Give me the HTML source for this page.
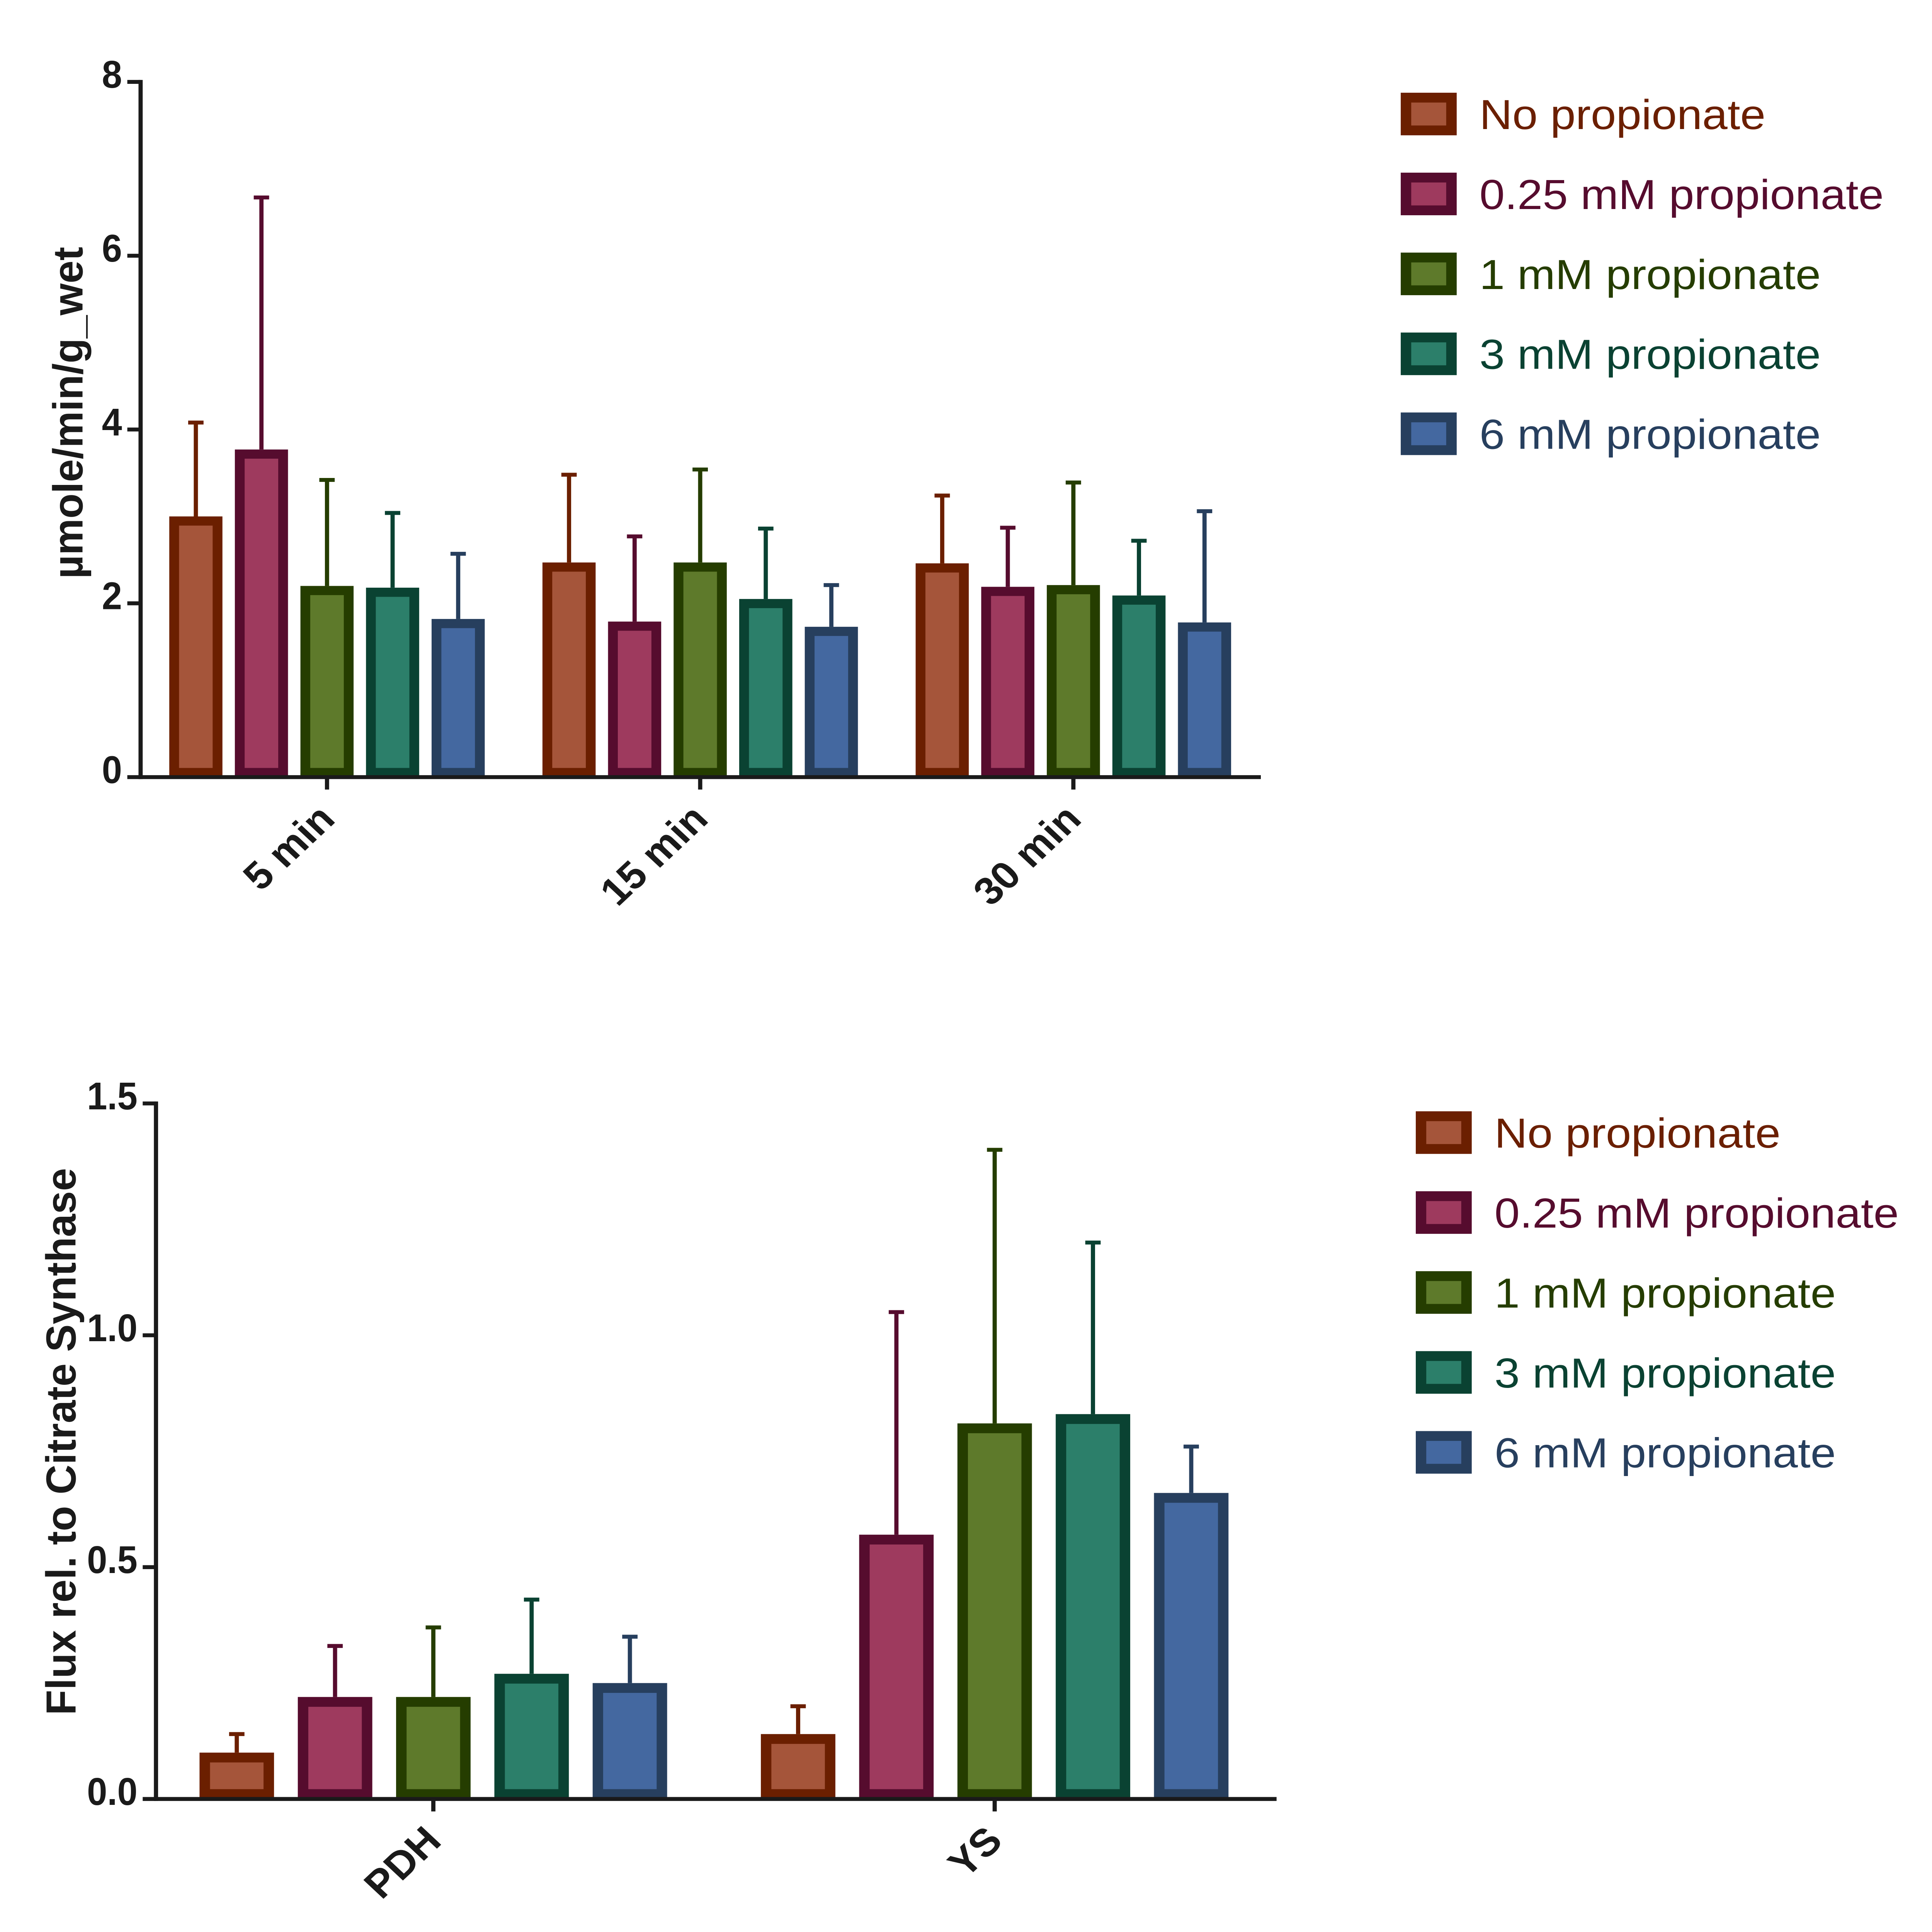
<!DOCTYPE html>
<html><head><meta charset="utf-8"><style>
html,body{margin:0;padding:0;background:#fff;overflow:hidden;width:100%;height:100%;}
svg{display:block;width:100vw;height:100vh;}
text{font-family:"Liberation Sans",sans-serif;}
</style></head><body>
<svg id="chart" viewBox="0 0 5524 5897" preserveAspectRatio="none" xmlns="http://www.w3.org/2000/svg"></svg>
<script>
const seriesNames = ["No propionate","0.25 mM propionate","1 mM propionate","3 mM propionate","6 mM propionate"];
const legendWidths = [818,1156,976,976,976];
const fills = ["#A5553A","#9E3A5E","#5E7A2B","#2C7F6A","#4468A0"];
const strokes = ["#6B1F00","#560C2E","#253D00","#0A4232","#273F5E"];
const topCategories = ["5 min","15 min","30 min"];
const topMeans = [[3.0,2.47,2.46],[3.77,1.79,2.19],[2.2,2.47,2.21],[2.18,2.05,2.09],[1.82,1.73,1.78]];
const topErrTops = [[4.08,3.48,3.24],[6.67,2.77,2.87],[3.42,3.54,3.39],[3.04,2.86,2.72],[2.57,2.21,3.06]];
const topTicks = [0,2,4,6,8];
const botCategories = ["PDH","YS"];
const botMeans = [[0.1,0.14],[0.22,0.57],[0.22,0.81],[0.27,0.83],[0.25,0.66]];
const botErrTops = [[0.14,0.2],[0.33,1.05],[0.37,1.4],[0.43,1.2],[0.35,0.76]];
const botTicks = ["0.0","0.5","1.0","1.5"];

const svg = document.getElementById('chart');
const NS = "http://www.w3.org/2000/svg";
function mk(tag, attrs, parent){const e=document.createElementNS(NS,tag);for(const k in attrs)e.setAttribute(k,attrs[k]);(parent||svg).appendChild(e);return e;}

function drawChart(cfg){
  const g = mk('g',{});
  
  
  const yScale = v => cfg.y0 - (v - cfg.vmin)/(cfg.vmax-cfg.vmin)*(cfg.y0-cfg.y1);
  cfg.cats.forEach((c,ci)=>{
    const center = cfg.groupStart + ci*cfg.groupStep;
    for(let s=0;s<5;s++){
      const cx = center + (s-2)*cfg.barStep;
      const v = cfg.means[s][ci], et = cfg.errs[s][ci];
      const yt = yScale(v), ye = yScale(et);
      const err = mk('line',{x1:cx,x2:cx,y1:ye,y2:yt,stroke:strokes[s],'stroke-width':12},g);
      
      
      const cap = mk('line',{x1:cx-22,x2:cx+22,y1:ye,y2:ye,stroke:strokes[s],'stroke-width':12},g);
      
      
      const sw = cfg.sw, w = cfg.barW;
      const r = mk('rect',{x:cx-w/2+sw/2,y:yt+sw/2,width:w-sw,height:Math.max(0,cfg.y0-yt-sw),fill:fills[s],stroke:strokes[s],'stroke-width':sw},g);
      
      
    }
    const tk = mk('line',{x1:center,x2:center,y1:cfg.y0,y2:cfg.y0+38,stroke:'#1a1a1a','stroke-width':12},g);
    
    
    const lx = center+28, ly = cfg.y0+134;
    const t = mk('text',{x:lx,y:ly,'font-size':118,'font-weight':'bold','text-anchor':'end',fill:'#1a1a1a',transform:`rotate(-45 ${lx} ${ly})`},g);
    t.textContent = c;
    
    
  });
  const ya = mk('line',{x1:cfg.ax,x2:cfg.ax,y1:cfg.y1-6,y2:cfg.y0+6,stroke:'#1a1a1a','stroke-width':12},g);
  
  
  const xa = mk('line',{x1:cfg.ax-6,x2:cfg.axEnd,y1:cfg.y0,y2:cfg.y0,stroke:'#1a1a1a','stroke-width':12},g);
  
  
  cfg.ticks.forEach(tv=>{
    const y = yScale(parseFloat(tv));
    const tl = mk('line',{x1:cfg.ax-38,x2:cfg.ax,y1:y,y2:y,stroke:'#1a1a1a','stroke-width':12},g);
    
    
    const tt = mk('text',{x:cfg.ax-53,y:y+18,'font-size':118,'font-weight':'bold','text-anchor':'end',fill:'#1a1a1a'},g);
    tt.textContent = tv;
    
    
    const len = tt.getComputedTextLength();
    if(len>0){tt.setAttribute('textLength', (len*0.88).toFixed(1));tt.setAttribute('lengthAdjust','spacingAndGlyphs');}
  });
  const mid = cfg.titleY;
  const yt = mk('text',{x:cfg.titleX,y:mid,'font-size':120,'font-weight':'bold','text-anchor':'middle',fill:'#1a1a1a',textLength:cfg.titleLen,lengthAdjust:'spacingAndGlyphs',transform:`rotate(-90 ${cfg.titleX} ${mid})`},g);
  yt.textContent = cfg.title;
  
  
  seriesNames.forEach((n,i)=>{
    const cy = cfg.legY + i*cfg.legStep;
    const sq = mk('rect',{x:cfg.legX+15,y:cy-50,width:130,height:100,fill:fills[i],stroke:strokes[i],'stroke-width':30},g);
    
    
    const lt = mk('text',{x:cfg.legX+225,y:cy+46,'font-size':128,fill:strokes[i],textLength:legendWidths[i],lengthAdjust:'spacingAndGlyphs'},g);
    lt.textContent = n;
    
    
  });
}

drawChart({name:'top-chart',cats:topCategories,means:topMeans,errs:topErrTops,ticks:topTicks.map(String),
  vmin:0,vmax:8,y0:2372,y1:250,ax:402,axEnd:3605,groupStart:935,groupStep:1067,barStep:187.5,barW:152,sw:28,
  title:'µmole/min/g_wet',titleX:236,titleY:1260,titleLen:1013,legX:4005,legY:348,legStep:244});
drawChart({name:'bottom-chart',cats:botCategories,means:botMeans,errs:botErrTops,ticks:botTicks,
  vmin:0,vmax:1.5,y0:5491,y1:3368,ax:446,axEnd:3650,groupStart:1239,groupStep:1605,barStep:281,barW:213,sw:30,
  title:'Flux rel. to Citrate Synthase',titleX:216,titleY:4400,titleLen:1670,legX:4048,legY:3457,legStep:244});
</script>
</body></html>
